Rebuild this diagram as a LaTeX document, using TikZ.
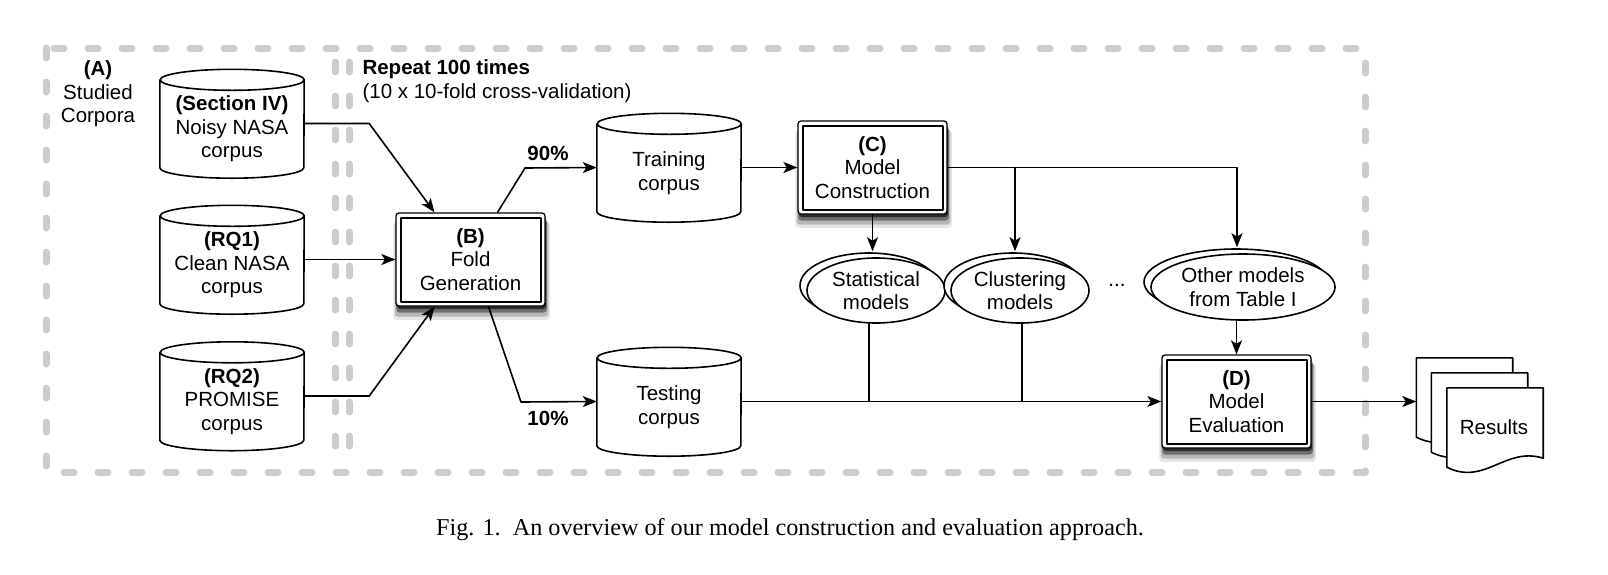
\documentclass[tikz,border=0pt]{standalone}
\usepackage{fontspec}
\setmainfont{Liberation Sans}
\newfontfamily\capfont{Liberation Serif}
\usepackage{tikz}
\usetikzlibrary{arrows.meta}
\usetikzlibrary{shapes.geometric}
\usetikzlibrary{shadows}
\begin{document}
\begin{tikzpicture}[line cap=round,line join=round,>={Stealth[length=14pt,width=11pt,inset=3.5pt]},x=1pt,y=-1pt,
  every node/.style={font=\fontsize{20.5}{23.5}\selectfont,align=center},
  frame/.style={draw=black!20,line width=7pt,dash pattern=on 10pt off 24pt},
  conn/.style={line width=1.6pt},
  corpus/.style={minimum width=144pt,minimum height=98pt,inner sep=0pt},
  stepbox/.style={draw,line width=1.3pt,fill=white,rounded corners=3pt,minimum width=149pt,minimum height=93pt,inner sep=0pt,
    path picture={\draw[line width=2pt,sharp corners] ([xshift=4.5pt,yshift=-4.5pt]path picture bounding box.north west) rectangle ([xshift=-4.5pt,yshift=4.5pt]path picture bounding box.south east);},
    drop shadow={shadow xshift=1pt,shadow yshift=-3pt,opacity=.6,fill=black},
    drop shadow={shadow xshift=1pt,shadow yshift=-6pt,opacity=.4,fill=black,shadow scale=1.01},
    drop shadow={shadow xshift=1pt,shadow yshift=-9pt,opacity=.2,fill=black,shadow scale=1.03},
    drop shadow={shadow xshift=1pt,shadow yshift=-11pt,opacity=.1,fill=black,shadow scale=1.05}},
  models/.style={ellipse,draw,line width=1.6pt,fill=white,minimum width=138pt,minimum height=65pt,inner sep=0pt,
    general shadow={shadow xshift=-7pt,shadow yshift=5pt,fill=white,draw=black,line width=1.6pt}},
  page/.style={minimum width=96pt,minimum height=82pt,inner sep=0pt},
  pct/.style={font=\bfseries\fontsize{20.5}{23.5}\selectfont}]
\useasboundingbox (0,0) rectangle (1608,574);
% dashed frames
\draw[frame] (46,48) rectangle (1365,472);
\draw[frame] (335,62) -- (335,458);
\draw[frame] (349,62) -- (349,458);
\node (lblA) at (98,94) {\textbf{(A)}\\Studied\\Corpora};
\node[anchor=west,align=left] (lblR) at (359,81) {\textbf{Repeat 100 times}\\(10 x 10-fold cross-validation)};
% corpora
\node[corpus] (noisy) at (232,129) {\textbf{(Section IV)}\\Noisy NASA\\corpus};
\node[corpus] (clean) at (232,265) {\textbf{(RQ1)}\\Clean NASA\\corpus};
\node[corpus] (promise) at (232,401.5) {\textbf{(RQ2)}\\PROMISE\\corpus};
\node[corpus] (train) at (669,173) {Training\\corpus};
\node[corpus] (test) at (669,407) {Testing\\corpus};
\foreach \c in {noisy,clean,promise,train,test}
  \draw[conn] (\c.north west) -- ([yshift=10.5pt]\c.south west) arc[start angle=180,end angle=360,x radius=72pt,y radius=10.5pt] -- (\c.north east) arc[start angle=0,end angle=360,x radius=72pt,y radius=10.5pt];
\node[stepbox] (fold) at (470.5,259.5) {\textbf{(B)}\\Fold\\Generation};
\node[stepbox] (build) at (872.5,167.5) {\textbf{(C)}\\Model\\Construction};
\node[models] (stat) at (876,290.5) {Statistical\\models};
\node[models] (clus) at (1020,290.5) {Clustering\\models};
\node (dots) at (1117,285) {...};
\node[models,minimum width=184pt,minimum height=66pt] (other) at (1243,287) {Other models\\from Table I};
\node[stepbox] (eval) at (1236.5,401.5) {\textbf{(D)}\\Model\\Evaluation};
% results
\node[page] (pg1) at (1464.5,399) {};
\node[page] (pg2) at (1479.5,414) {};
\node[page] (pg3) at (1495,429) {};
\foreach \p in {pg1,pg2,pg3}
  \draw[conn,fill=white] (\p.north west) -- (\p.north east) -- ([yshift=12pt]\p.south east) .. controls ([xshift=-38pt,yshift=24pt]\p.south east) and ([xshift=38pt,yshift=-16pt]\p.south west) .. ([yshift=3pt]\p.south west) -- cycle;
\node (res) at (1494,427) {Results};
% connectors
\draw[conn,->] ([yshift=5.5pt]noisy.east) -- ++(65,0) -- ([xshift=-36pt]fold.north);
\draw[conn,->] ([yshift=5.5pt]clean.east) -- (fold.west);
\draw[conn,->] ([yshift=5.5pt]promise.east) -- ++(65,0) -- ([xshift=-36pt]fold.south);
\draw[conn,->] ([xshift=27pt]fold.north) -- (525,168) -- ([yshift=5.5pt]train.west);
\draw[conn,->] ([xshift=18pt]fold.south) -- (521,402) -- ([yshift=5.5pt]test.west);
\node[pct] (p90) at (548,153) {90\%};
\node[pct] (p10) at (548,418) {10\%};
\draw[conn,->] ([yshift=5.5pt]train.east) -- (build.west);
\draw[conn,->] (build.south) -- ([yshift=6pt]build.south |- stat.north);
\draw[conn,->] (build.east) -| ([xshift=-6pt,yshift=6pt]other.north);
\draw[conn,->] ([xshift=-5pt]clus.north |- build.east) -- ([xshift=-5pt,yshift=6pt]clus.north);
\draw[conn] ([xshift=-7pt]stat.south) -- ([xshift=-7pt]stat.south |- eval.west);
\draw[conn] ([xshift=2pt]clus.south) -- ([xshift=2pt]clus.south |- eval.west);
\draw[conn,->] ([yshift=5.5pt]test.east) -- (eval.west);
\draw[conn,->] (eval.north |- other.south) -- (eval.north);
\draw[conn,->] (eval.east) -- (eval.east -| pg1.west);
% caption
\node[font=\capfont\fontsize{24.2}{28}\selectfont] (cap) at (790,530) {Fig. 1.\ \ An overview of our model construction and evaluation approach.};
\end{tikzpicture}
\end{document}
